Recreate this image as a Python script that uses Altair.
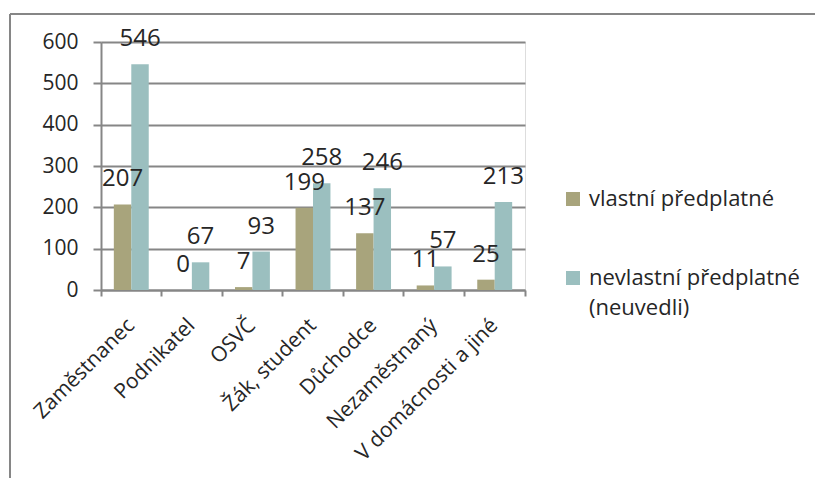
import altair as alt
import pandas as pd

categories = ["Zaměstnanec", "Podnikatel", "OSVČ", "Žák, student", "Důchodce",
              "Nezaměstnaný", "V domácnosti a jiné"]
series_names = ["vlastní předplatné", "nevlastní předplatné (neuvedli)"]
vlastni = [207, 0, 7, 199, 137, 11, 25]
nevlastni = [546, 67, 93, 258, 246, 57, 213]
y_ticks = [0, 100, 200, 300, 400, 500, 600]
colors = ["#A8A47C", "#9BBFBF"]

rows = []
for i, c in enumerate(categories):
    rows.append({"cat": c, "series": series_names[0], "value": vlastni[i]})
    rows.append({"cat": c, "series": series_names[1], "value": nevlastni[i]})
df = pd.DataFrame(rows)

W, H = 424, 248
FONT = "Open Sans"
TEXT = "#262626"
GRID = "#868686"

x = alt.X(
    "cat:N", sort=categories,
    scale=alt.Scale(paddingInner=0, paddingOuter=0),
    axis=alt.Axis(
        title=None, bandPosition=1, tickExtra=True, labelOffset=0,
        labelAngle=315, labelAlign="right", labelBaseline="middle",
        labelFont=FONT, labelFontSize=21, labelColor=TEXT, labelPadding=26,
        labelLimit=300, labelOverlap=False,
        tickSize=6, tickColor=GRID, tickWidth=2,
        domainColor=GRID, domainWidth=2, grid=False,
    ),
)
xo = alt.XOffset("series:N", sort=series_names,
                 scale=alt.Scale(paddingInner=0, paddingOuter=0.735))
y = alt.Y(
    "value:Q",
    scale=alt.Scale(domain=[0, 600], nice=False),
    axis=alt.Axis(
        title=None, values=y_ticks, tickSize=8, tickColor=GRID, tickWidth=2,
        labelPadding=15, labelFont=FONT, labelFontSize=21, labelColor=TEXT,
        domainColor=GRID, domainWidth=2,
        grid=True, gridColor=GRID, gridWidth=2,
    ),
)
color = alt.Color(
    "series:N", sort=series_names,
    scale=alt.Scale(domain=series_names, range=colors),
    legend=alt.Legend(
        title=None, orient="none", legendX=461, legendY=146, padding=0,
        symbolType="square", symbolSize=196, symbolStrokeWidth=0,
        labelFont=FONT, labelFontSize=22, labelColor=TEXT, labelLimit=400,
        labelOffset=5, rowPadding=57,
        labelExpr="datum.label == 'nevlastní předplatné (neuvedli)' ? ['nevlastní předplatné', '(neuvedli)'] : datum.label",
    ),
)

base = alt.Chart(df).encode(x=x, xOffset=xo, y=y)
bars = base.mark_bar().encode(color=color)
labels = base.mark_text(baseline="alphabetic", dy=-18, font=FONT, fontSize=24,
                        color=TEXT).encode(text="value:Q")

one = pd.DataFrame({"a": [0]})
top_border = alt.Chart(one).mark_rule(color=GRID, strokeWidth=2).encode(
    x=alt.value(-91), x2=alt.value(740), y=alt.value(-28))
left_border = alt.Chart(one).mark_rule(color=GRID, strokeWidth=2).encode(
    x=alt.value(-91), y=alt.value(-28), y2=alt.value(460))

chart = alt.layer(bars, labels, top_border, left_border).properties(
    width=W, height=H,
    autosize=alt.AutoSizeParams(type="none"),
    padding={"left": 93, "top": 34, "right": 290, "bottom": 188},
).configure_view(stroke=None).configure(
    background="white",
    style={"guide-label": {"lineHeight": 30}},
)

chart.save("out.html", embed_options={"renderer": "svg", "actions": False})
